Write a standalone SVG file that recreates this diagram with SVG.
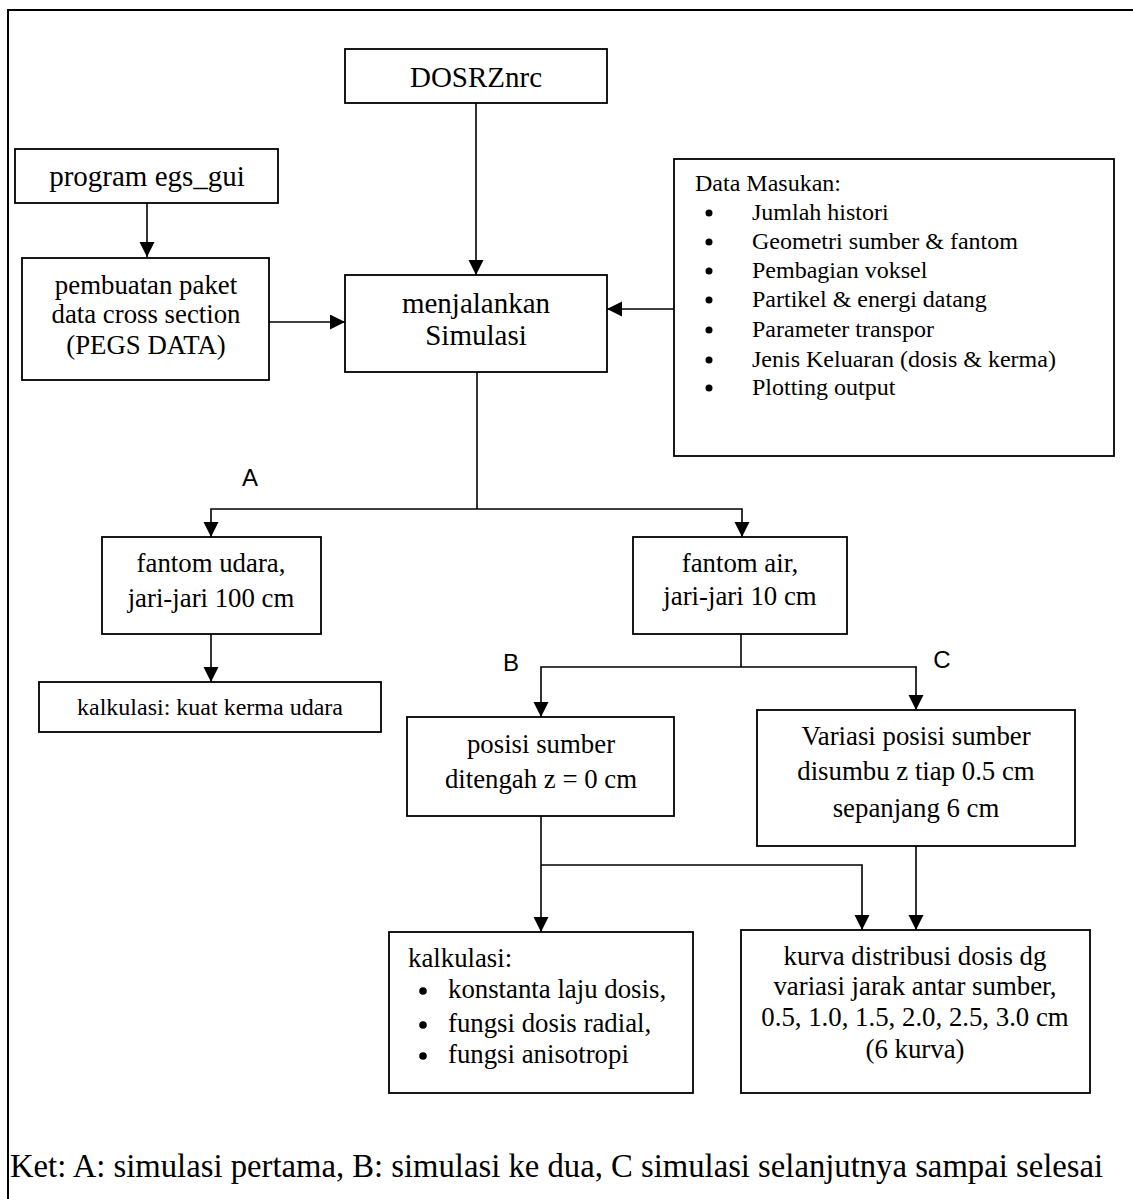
<svg xmlns="http://www.w3.org/2000/svg" width="1133" height="1199" viewBox="0 0 1133 1199">
<defs>
<style>
.box{fill:#fff;stroke:#000;stroke-width:1.8}
.t{font-family:"Liberation Serif","Times New Roman",serif;fill:#000}
.c{text-anchor:middle}
.f29{font-size:29px}
.f27{font-size:26.8px}
.f24{font-size:24px}
.lbl{font-family:"Liberation Sans",Arial,sans-serif;font-size:24px;fill:#000;text-anchor:middle}
.ln{fill:none;stroke:#000;stroke-width:1.6}
.ar{marker-end:url(#ah)}
</style>
<marker id="ah" markerUnits="userSpaceOnUse" markerWidth="16" markerHeight="16" refX="15" refY="7.5" orient="auto">
<path d="M0,0 L15,7.5 L0,15 z" fill="#000"/>
</marker>
</defs>
<rect width="1133" height="1199" fill="#fff"/>
<path d="M8,1199 V10 H1133" fill="none" stroke="#000" stroke-width="2"/>

<g id="connectors">
<path class="ln ar" d="M147,203 V257"/>
<path class="ln ar" d="M476,103 V275"/>
<path class="ln ar" d="M269,322 H345"/>
<path class="ln ar" d="M674,309 H607"/>
<path class="ln" d="M477,372 V509"/>
<path class="ln ar" d="M477,509 H211 V537"/>
<path class="ln ar" d="M477,509 H742 V537"/>
<path class="ln ar" d="M211,634 V682"/>
<path class="ln" d="M741,634 V667"/>
<path class="ln ar" d="M741,667 H541 V717"/>
<path class="ln ar" d="M741,667 H917 M916,667 V710"/>
<path class="ln ar" d="M541,816 V932"/>
<path class="ln ar" d="M541,865 H862 V930"/>
<path class="ln ar" d="M916,846 V930"/>
</g>

<g id="n-egsgui">
<rect class="box" x="15" y="149" width="263" height="54"/>
<text class="t c f29" x="147" y="186">program egs_gui</text>
</g>
<g id="n-dosrz">
<rect class="box" x="345" y="49" width="262" height="54"/>
<text class="t c f29" x="476" y="87">DOSRZnrc</text>
</g>
<g id="n-pegs">
<rect class="box" x="22" y="258" width="247" height="122"/>
<text class="t c f27" x="146" y="294">pembuatan paket</text>
<text class="t c f27" x="146" y="323">data cross section</text>
<text class="t c f27" x="146" y="354">(PEGS DATA)</text>
</g>
<g id="n-simulasi">
<rect class="box" x="345" y="275" width="262" height="97"/>
<text class="t c f29" x="476" y="313">menjalankan</text>
<text class="t c f29" x="476" y="345">Simulasi</text>
</g>
<g id="n-data">
<rect class="box" x="674" y="159" width="440" height="297"/>
<text class="t f24" x="695" y="191">Data Masukan:</text>
<g fill="#000">
<circle cx="709" cy="213" r="3.5"/>
<circle cx="709" cy="242" r="3.5"/>
<circle cx="709" cy="271" r="3.5"/>
<circle cx="709" cy="300" r="3.5"/>
<circle cx="709" cy="330" r="3.5"/>
<circle cx="709" cy="360" r="3.5"/>
<circle cx="709" cy="388" r="3.5"/>
</g>
<text class="t f24" x="752" y="220">Jumlah histori</text>
<text class="t f24" x="752" y="249">Geometri sumber &amp; fantom</text>
<text class="t f24" x="752" y="278">Pembagian voksel</text>
<text class="t f24" x="752" y="307">Partikel &amp; energi datang</text>
<text class="t f24" x="752" y="337">Parameter transpor</text>
<text class="t f24" x="752" y="367">Jenis Keluaran (dosis &amp; kerma)</text>
<text class="t f24" x="752" y="395">Plotting output</text>
</g>

<text class="lbl" x="250" y="486">A</text>
<text class="lbl" x="511" y="671">B</text>
<text class="lbl" x="942" y="668">C</text>

<g id="n-udara">
<rect class="box" x="102" y="537" width="219" height="97"/>
<text class="t c f27" x="211" y="572">fantom udara,</text>
<text class="t c f27" x="211" y="607">jari-jari 100 cm</text>
</g>
<g id="n-air">
<rect class="box" x="633" y="537" width="214" height="97"/>
<text class="t c f27" x="740" y="572">fantom air,</text>
<text class="t c f27" x="740" y="605">jari-jari 10 cm</text>
</g>
<g id="n-kerma">
<rect class="box" x="39" y="682" width="342" height="50"/>
<text class="t c f24" x="210" y="715">kalkulasi: kuat kerma udara</text>
</g>
<g id="n-posisi">
<rect class="box" x="407" y="717" width="267" height="99"/>
<text class="t c f27" x="541" y="753">posisi sumber</text>
<text class="t c f27" x="541" y="788">ditengah z = 0 cm</text>
</g>
<g id="n-variasi">
<rect class="box" x="757" y="710" width="318" height="136"/>
<text class="t c f27" x="916" y="745">Variasi posisi sumber</text>
<text class="t c f27" x="916" y="780">disumbu z tiap 0.5 cm</text>
<text class="t c f27" x="916" y="817">sepanjang 6 cm</text>
</g>
<g id="n-kalkulasi">
<rect class="box" x="389" y="932" width="304" height="161"/>
<text class="t f27" x="408" y="967">kalkulasi:</text>
<g fill="#000">
<circle cx="423" cy="991" r="3.8"/>
<circle cx="423" cy="1025" r="3.8"/>
<circle cx="423" cy="1056" r="3.8"/>
</g>
<text class="t f27" x="448" y="998">konstanta laju dosis,</text>
<text class="t f27" x="448" y="1032">fungsi dosis radial,</text>
<text class="t f27" x="448" y="1063">fungsi anisotropi</text>
</g>
<g id="n-kurva">
<rect class="box" x="741" y="930" width="349" height="163"/>
<text class="t c f27" x="915" y="965">kurva distribusi dosis dg</text>
<text class="t c f27" x="915" y="995">variasi jarak antar sumber,</text>
<text class="t c f27" x="915" y="1026">0.5, 1.0, 1.5, 2.0, 2.5, 3.0 cm</text>
<text class="t c f27" x="915" y="1058">(6 kurva)</text>
</g>

<text class="t" x="10" y="1177" font-size="32.7">Ket: A: simulasi pertama, B: simulasi ke dua, C simulasi selanjutnya sampai selesai</text>
</svg>
